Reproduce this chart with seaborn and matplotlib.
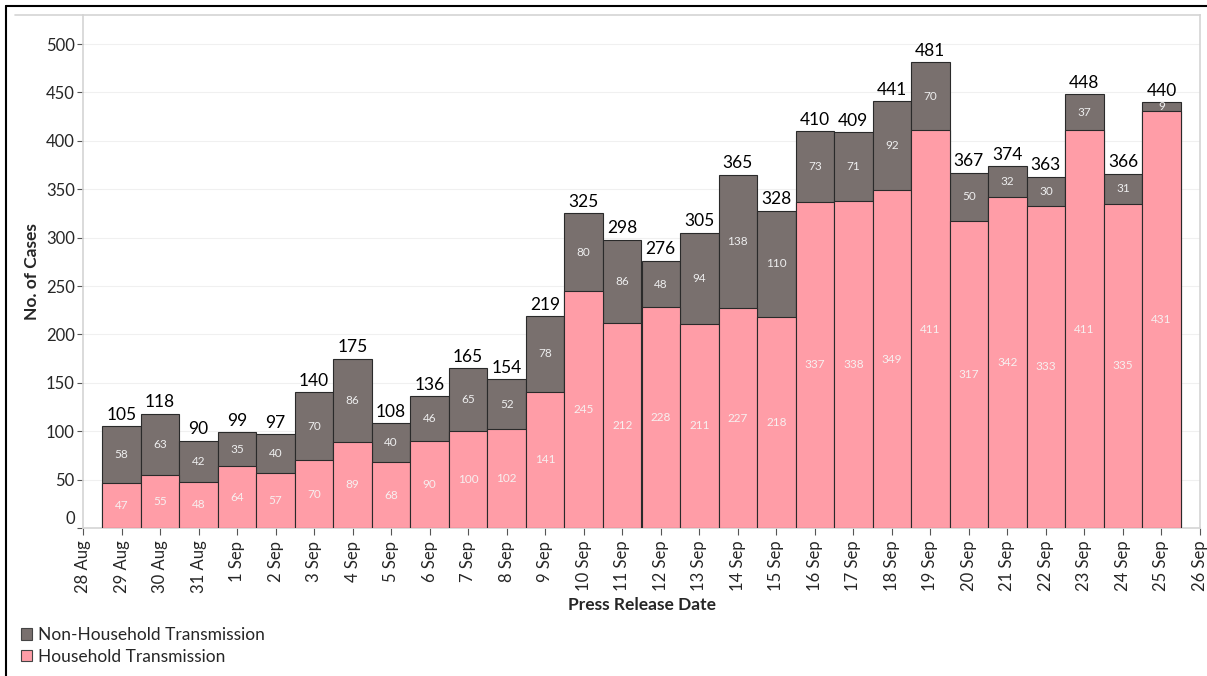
import matplotlib
matplotlib.use("Agg")
import pandas as pd
import seaborn as sns
import matplotlib.pyplot as plt
import matplotlib.transforms as mtransforms
from matplotlib.lines import Line2D
from matplotlib.patches import Patch

# 데이터 (press release dates)
dates = ["29 Aug", "30 Aug", "31 Aug", "1 Sep", "2 Sep", "3 Sep", "4 Sep", "5 Sep",
         "6 Sep", "7 Sep", "8 Sep", "9 Sep", "10 Sep", "11 Sep", "12 Sep", "13 Sep",
         "14 Sep", "15 Sep", "16 Sep", "17 Sep", "18 Sep", "19 Sep", "20 Sep", "21 Sep",
         "22 Sep", "23 Sep", "24 Sep", "25 Sep"]
tick_labels = ["28 Aug"] + dates + ["26 Sep"]
household = [47, 55, 48, 64, 57, 70, 89, 68, 90, 100, 102, 141, 245, 212, 228, 211,
             227, 218, 337, 338, 349, 411, 317, 342, 333, 411, 335, 431]
non_household = [58, 63, 42, 35, 40, 70, 86, 40, 46, 65, 52, 78, 80, 86, 48, 94,
                 138, 110, 73, 71, 92, 70, 50, 32, 30, 37, 31, 9]

GRAY = "#79706E"
PINK = "#FF9DA7"

df = pd.DataFrame({"date": dates, "household": household, "non_household": non_household})
df["total"] = df["household"] + df["non_household"]

sns.set_style("white")
plt.rcParams["font.family"] = ["Lato", "DejaVu Sans"]

W, H = 1207, 676
fig = plt.figure(figsize=(W / 100, H / 100), dpi=100)
ax = fig.add_axes([83 / W, 1 - 528 / H, (1200 - 83) / W, (528 - 15) / H])

# 누적 막대: total 먼저, household 위에
sns.barplot(data=df, x="date", y="total", color=GRAY, width=1, saturation=1,
            edgecolor="#2a2a2a", linewidth=0.8, ax=ax, zorder=2)
sns.barplot(data=df, x="date", y="household", color=PINK, width=1, saturation=1,
            edgecolor="#2a2a2a", linewidth=0.8, ax=ax, zorder=3)

for i, row in df.iterrows():
    ax.text(i, row["household"] / 2, str(row["household"]), ha="center", va="center",
            color="#f7f0f0", fontsize=8.5, zorder=5)
    ax.text(i, row["household"] + row["non_household"] / 2, str(row["non_household"]),
            ha="center", va="center", color="#eeeeee", fontsize=8.5, zorder=5)
    ax.text(i, row["total"] + 3.5, str(row["total"]), ha="center", va="bottom",
            color="black", fontsize=12.5, zorder=5)

ax.set_xlim(-1, len(dates))
ax.set_ylim(0, 530)
ax.set_xticks(range(-1, len(dates) + 1))
ax.set_xticklabels(tick_labels, rotation=90, fontsize=12)
ax.set_yticks(range(0, 501, 50))
ax.set_yticklabels([str(v) for v in range(0, 501, 50)], fontsize=12)
ax.tick_params(axis="x", length=5, width=0.8, color="#555555", pad=4, bottom=True)
ax.tick_params(axis="y", length=4, width=0.8, color="#555555", pad=2, left=True)

# "0" 라벨은 조금 위로
zero_lbl = ax.get_yticklabels()[0]
zero_lbl.set_transform(zero_lbl.get_transform() +
                       mtransforms.ScaledTranslation(0, 10 / 100, fig.dpi_scale_trans))

ax.yaxis.grid(True, color="#f0f0f0", linewidth=0.8, zorder=0)
ax.xaxis.grid(False)
ax.set_axisbelow(True)
for side in ["left", "bottom", "top", "right"]:
    ax.spines[side].set_visible(True)
    ax.spines[side].set_color("#d4d4d4")
    ax.spines[side].set_linewidth(1.2)

ax.set_xlabel("Press Release Date", fontsize=12.5, fontweight="bold", labelpad=3)
ax.set_ylabel("No. of Cases", fontsize=12.5, fontweight="bold", labelpad=4)

# 외곽선
fig.add_artist(Line2D([15 / W, 83 / W], [1 - 15 / H, 1 - 15 / H], color="#d4d4d4",
                      linewidth=1.2, transform=fig.transFigure))
fig.add_artist(Line2D([6 / W, 6 / W], [0, 1 - 6 / H], color="black", linewidth=1.5,
                      transform=fig.transFigure))
fig.add_artist(Line2D([6 / W, 1], [1 - 6 / H, 1 - 6 / H], color="black", linewidth=1.5,
                      transform=fig.transFigure))

handles = [Patch(facecolor=GRAY, edgecolor="#444444", linewidth=0.8, label="Non-Household Transmission"),
           Patch(facecolor=PINK, edgecolor="#444444", linewidth=0.8, label="Household Transmission")]
fig.legend(handles=handles, loc="upper left", bbox_to_anchor=(21 / W, 1 - 627 / H),
           frameon=False, fontsize=12.5, handlelength=0.65, handleheight=0.65,
           handletextpad=0.35, labelspacing=0.32, borderaxespad=0, borderpad=0)

fig.savefig("out.png", dpi=100)
